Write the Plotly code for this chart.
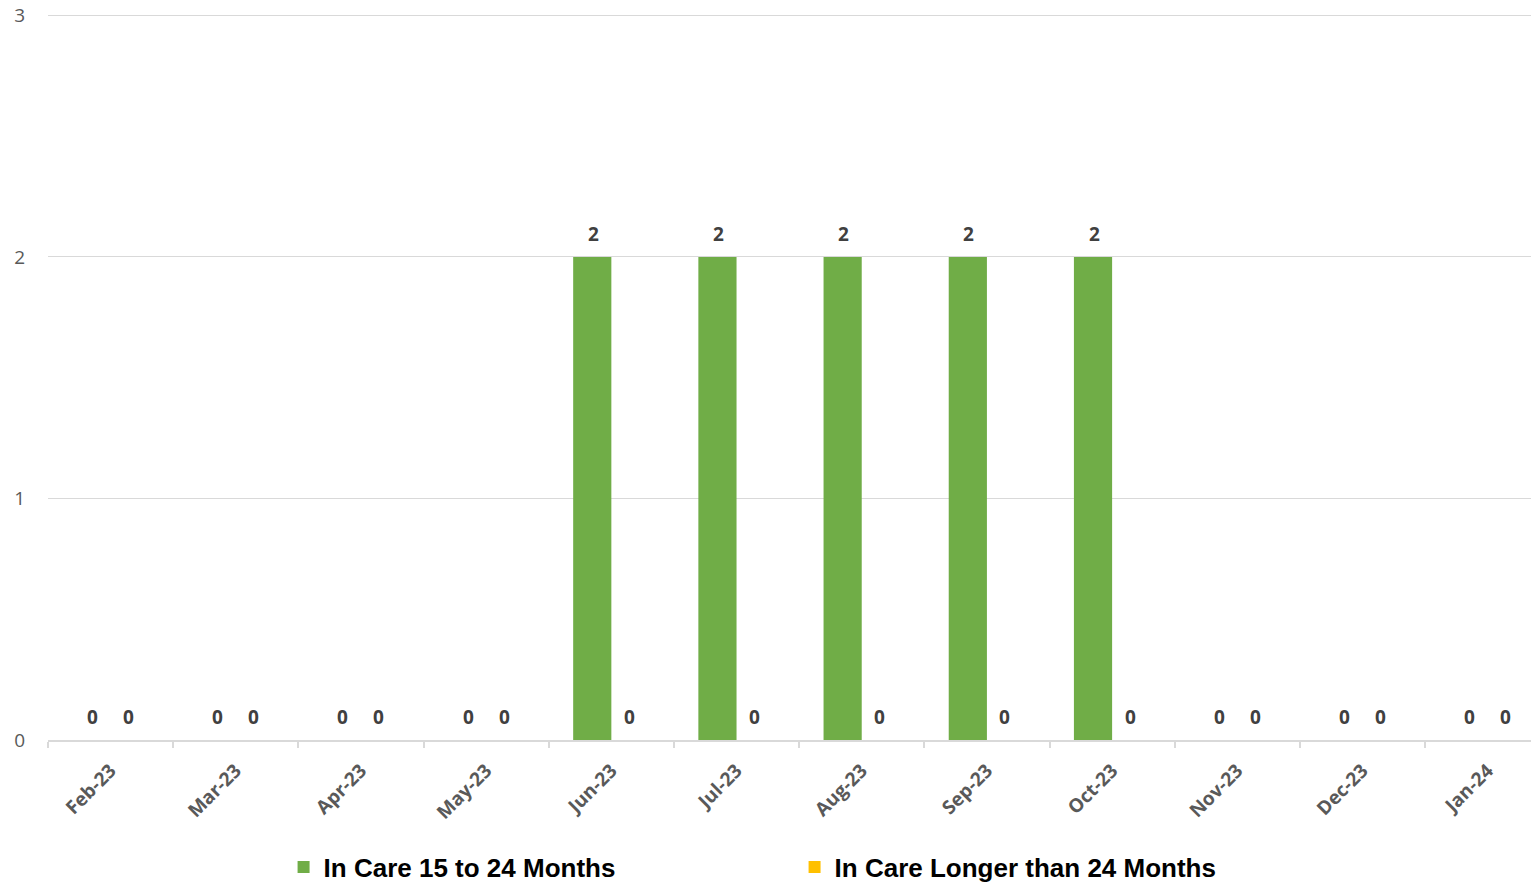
import plotly.graph_objects as go

months = ["Feb-23", "Mar-23", "Apr-23", "May-23", "Jun-23", "Jul-23",
          "Aug-23", "Sep-23", "Oct-23", "Nov-23", "Dec-23", "Jan-24"]
care_15_24 = [0, 0, 0, 0, 2, 2, 2, 2, 2, 0, 0, 0]
care_over_24 = [0, 0, 0, 0, 0, 0, 0, 0, 0, 0, 0, 0]
series_names = ["In Care 15 to 24 Months", "In Care Longer than 24 Months"]
series_colors = ["#70AD47", "#FFC000"]

fig = go.Figure()
for name, vals, col in zip(series_names, [care_15_24, care_over_24], series_colors):
    fig.add_trace(go.Bar(x=months, y=vals, name=name, marker_color=col,
                         marker_line_width=0))

# value labels
for shift, vals in zip([-18, 18], [care_15_24, care_over_24]):
    for m, v in zip(months, vals):
        fig.add_annotation(x=m, y=v, text=f"<b>{v}</b>", showarrow=False,
                           xshift=shift, yshift=23,
                           font=dict(family="Open Sans", size=19, color="#404040"))

fig.update_layout(
    width=1531, height=877,
    margin=dict(l=40, r=0, t=5, b=145, autoexpand=False),
    plot_bgcolor="white", paper_bgcolor="white",
    barmode="group", bargap=0.39, bargroupgap=0,
    showlegend=True,
    legend=dict(orientation="h", x=0.158, xanchor="left", y=-0.1747, yanchor="middle",
                entrywidth=466, entrywidthmode="pixels", itemwidth=30,
                font=dict(family="Arial", size=26, color="#000000", weight="bold"),
                bgcolor="rgba(0,0,0,0)"),
    font=dict(family="Open Sans", color="#595959"),
)
fig.update_xaxes(
    range=[-0.5, 11.41], type="category", automargin=False,
    showline=True, linecolor="#d9d9d9", linewidth=2,
    ticks="outside", tickson="boundaries", ticklen=6, tickcolor="#d9d9d9", tickwidth=2,
    tickangle=-45, ticklabelstandoff=10,
    tickfont=dict(family="Open Sans", size=19, color="#595959", weight="bold"),
    showgrid=False,
)
fig.update_yaxes(
    range=[0, 3.01], tickvals=[0, 1, 2, 3], showgrid=True, gridcolor="#d9d9d9", gridwidth=1,
    zeroline=False, showline=False, ticklabelstandoff=22, automargin=False,
    ticklabeloverflow="allow",
    tickfont=dict(family="Open Sans", size=19, color="#595959"),
)

fig.write_html("out.html")
